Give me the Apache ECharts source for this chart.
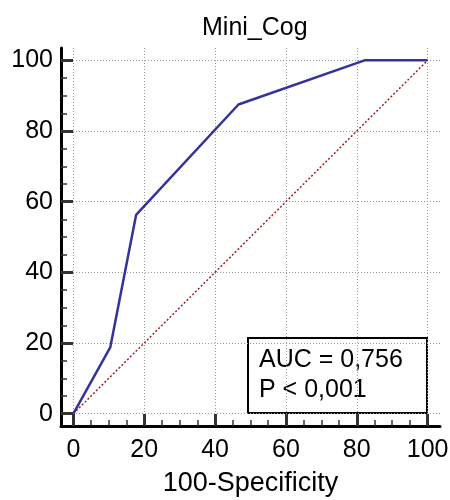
<!DOCTYPE html>
<html>
<head>
<meta charset="utf-8">
<script src="https://cdn.jsdelivr.net/npm/echarts@6/dist/echarts.min.js"></script>
<style>html,body{margin:0;padding:0;background:#fff}#c{width:450px;height:500px}</style>
</head>
<body>
<div id="c"></div>
<script>
const chartTitle = 'Mini_Cog';
const xAxisName = '100-Specificity';
const rocX = [0, 10.4, 17.7, 46.6, 82.2, 100];
const rocY = [0, 18.75, 56.25, 87.5, 100, 100];
const refX = [0, 100];
const refY = [0, 100];
const majorTicks = [0, 20, 40, 60, 80, 100];
const minorTicks = [5, 10, 15, 25, 30, 35, 45, 50, 55, 65, 70, 75, 85, 90, 95];
const statLines = ['AUC = 0,756', 'P < 0,001'];

const FONT = 'Liberation Sans, Arial, sans-serif';
const axMin = -3.5, axMax = 103.5;

function majorAxis(isX) {
  return {
    type: 'value', min: axMin, max: axMax,
    position: isX ? 'bottom' : 'left',
    axisLine: { show: true, onZero: false, lineStyle: { color: '#000', width: 3 } },
    axisTick: { show: true, inside: true, length: 12, customValues: majorTicks, lineStyle: { color: '#333', width: 3 } },
    axisLabel: { show: true, customValues: majorTicks, color: '#000', fontSize: 25, fontFamily: FONT, margin: isX ? 12 : 8 },
    splitLine: { show: true, lineStyle: { color: '#999', width: 1, type: [1, 2] } },
    name: isX ? xAxisName : '',
    nameLocation: 'middle', nameGap: 44,
    nameTextStyle: { color: '#000', fontSize: 27, fontFamily: FONT }
  };
}
function minorAxis(isX) {
  return {
    type: 'value', min: axMin, max: axMax,
    position: isX ? 'bottom' : 'left',
    axisLine: { show: false, onZero: false },
    axisTick: { show: true, inside: true, length: 6, customValues: minorTicks, lineStyle: { color: '#333', width: 1.5 } },
    axisLabel: { show: false },
    splitLine: { show: false }
  };
}

const chart = echarts.init(document.getElementById('c'), null, { renderer: 'canvas' });
chart.setOption({
  animation: false,
  backgroundColor: '#fff',
  title: { text: chartTitle, left: 197, top: 11, textStyle: { color: '#000', fontSize: 25, fontWeight: 'normal', fontFamily: FONT } },
  grid: { left: 61, right: 10, top: 48, bottom: 74, containLabel: false, outerBoundsMode: 'none' },
  xAxis: [majorAxis(true), minorAxis(true)],
  yAxis: [majorAxis(false), minorAxis(false)],
  series: [
    { type: 'line', xAxisIndex: 0, yAxisIndex: 0, data: refX.map((v, i) => [v, refY[i]]), symbol: 'none',
      lineStyle: { color: '#9a2424', width: 1.5, type: [2, 2] }, z: 2 },
    { type: 'line', xAxisIndex: 0, yAxisIndex: 0, data: rocX.map((v, i) => [v, rocY[i]]), symbol: 'none',
      lineStyle: { color: '#33339a', width: 2.5 }, z: 3 }
  ],
  graphic: [{
    type: 'group', left: 247, top: 337, z: 10,
    children: [
      { type: 'rect', shape: { x: 0, y: 0, width: 179, height: 75 }, style: { fill: '#fff', stroke: '#000', lineWidth: 2 } },
      { type: 'text', x: 11, y: 22, style: { text: statLines[0], fill: '#000', font: '25px ' + FONT, verticalAlign: 'middle' } },
      { type: 'text', x: 11, y: 52, style: { text: statLines[1], fill: '#000', font: '25px ' + FONT, verticalAlign: 'middle' } }
    ]
  }]
});
</script>
</body>
</html>
